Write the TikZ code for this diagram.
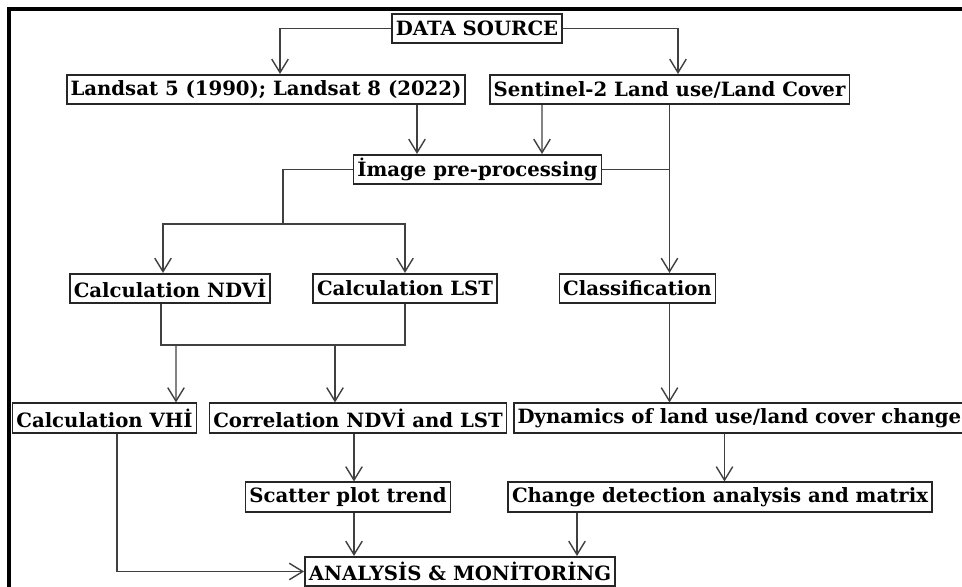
\documentclass[tikz,border=0pt]{standalone}
\usepackage{fontspec}
\setmainfont{DejaVu Serif}
\usetikzlibrary{arrows.meta,calc}
\tikzset{
	box/.style={draw=black!85, line width=0.9pt, fill=white, inner xsep=2.2pt, inner ysep=1pt, minimum height=0.59cm, font=\bfseries\fontsize{11.2}{12}\selectfont},
	arr/.style={draw=black!75, line width=0.8pt, -{Straight Barb[length=2.7mm,width=3.3mm]}},
	ln/.style={draw=black!75, line width=0.8pt}
}
\begin{document}
\begin{tikzpicture}[x=0.02cm, y=-0.02cm]
	\useasboundingbox (0,0) rectangle (962,587);
	\draw[line width=0.08cm] (9,620) -- (9,9) -- (1000,9);

	\node[box] (src) at (477,28.5) {DATA SOURCE};
	\node[box] (landsat) at (266,89.5) {Landsat 5 (1990); Landsat 8 (2022)};
	\node[box] (sentinel) at (669.5,89.5) {Sentinel-2 Land use/Land Cover};
	\node[box] (prep) at (477.5,169.5) {İmage pre-processing};
	\node[box] (ndvi) at (170,288.5) {Calculation NDVİ};
	\node[box] (lst) at (405,288.5) {Calculation LST};
	\node[box] (cls) at (637.5,288.5) {Classification};
	\node[box] (vhi) at (104.5,418) {Calculation VHİ};
	\node[box] (corr) at (358,418) {Correlation NDVİ and LST};
	\node[box, anchor=west] (dyn) at (513,418) {Dynamics of land use/land cover change};
	\node[box] (scatter) at (348,497) {Scatter plot trend};
	\node[box] (change) at (720,497) {Change detection analysis and matrix};
	\node[box] (am) at (460,571.5) {ANALYSİS \& MONİTORİNG};

	\coordinate (split) at (283,224);
	\coordinate (c2) at ($(scatter.north)+(6,0)$);
	\coordinate (c3) at ($(change.north)+(4.5,0)$);
	\coordinate (c4) at ($(am.north)+(117,0)$);

	\draw[arr] (src.west) -| ($(landsat.north)+(14,0)$);
	\draw[arr] (src.east) -| ($(sentinel.north)+(8.5,0)$);
	\draw[arr] ($(landsat.south)+(151,0)$) -- ($(prep.north)+(-60.5,0)$);
	\draw[arr] ($(sentinel.south)+(-127.5,0)$) -- ($(prep.north)+(64.5,0)$);
	\draw[arr] (sentinel.south) -- (cls.north -| sentinel.south);
	\draw[ln] (prep.east) -- (prep.east -| sentinel.south);

	\draw[ln] (prep.west) -| (split);
	\draw[arr] (split) -| ($(ndvi.north)+(-7,0)$);
	\draw[arr] (split) -| (lst.north);

	\draw[ln] ($(ndvi.south)+(-9,0)$) |- ($(lst.south)+(0,41)$) -- (lst.south);
	\draw[arr] ($(ndvi.south)+(6,41)$) -- ($(vhi.north)+(71.5,0)$);
	\draw[arr] ($(ndvi.south)+(165,41)$) -- ($(corr.north)+(-23,0)$);

	\draw[arr] (cls.south -| sentinel.south) -- (dyn.north -| sentinel.south);
	\draw[arr] (dyn.south -| c3) -- (c3);
	\draw[arr] (corr.south -| c2) -- (c2);
	\draw[arr] (scatter.south -| c2) -- (am.north -| c2);
	\draw[arr] (change.south -| c4) -- (c4);
	\draw[arr] ($(vhi.south)+(12.5,0)$) |- (am.west);
\end{tikzpicture}
\end{document}
